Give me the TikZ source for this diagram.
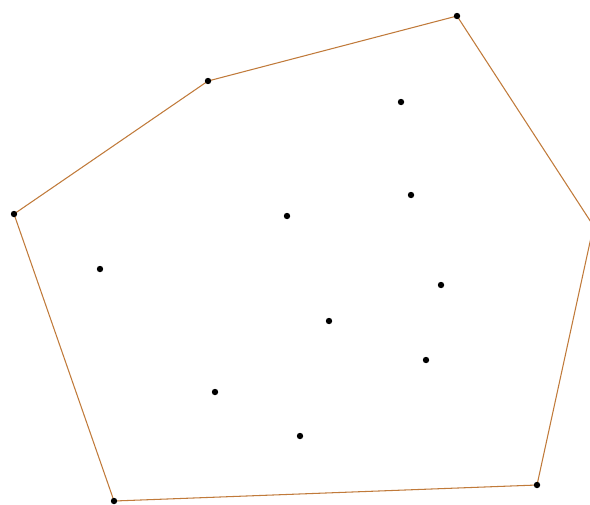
\documentclass[tikz,border=0pt]{standalone}
\usepackage{tikz}
\definecolor{HullBrown}{HTML}{C07A3A}

\begin{document}
\begin{tikzpicture}[x=0.02cm,y=-0.02cm,line cap=round,line join=round]
  \useasboundingbox (0,0) rectangle (590,504);
  \clip (0,0) rectangle (590,504);

  % hull corners
  \coordinate (P1) at (14,214);
  \coordinate (P2) at (208,81);
  \coordinate (P3) at (457,16);
  \coordinate (P4) at (593.5,226);
  \coordinate (P5) at (537,485);
  \coordinate (P6) at (114,501);

  % points inside
  \coordinate (Q1) at (401,102);
  \coordinate (Q2) at (411,195);
  \coordinate (Q3) at (287,216);
  \coordinate (Q4) at (100,269);
  \coordinate (Q5) at (441,285);
  \coordinate (Q6) at (329,321);
  \coordinate (Q7) at (426,360);
  \coordinate (Q8) at (215,392);
  \coordinate (Q9) at (300,436);

  \draw[HullBrown,line width=0.6pt] (P1)--(P2)--(P3)--(P4)--(P5)--(P6)--cycle;

  \fill (P1) circle (3.2) (P2) circle (3.2) (P3) circle (3.2)
        (P5) circle (3.2) (P6) circle (3.2);
  \fill (Q1) circle (3.2) (Q2) circle (3.2) (Q3) circle (3.2)
        (Q4) circle (3.2) (Q5) circle (3.2) (Q6) circle (3.2)
        (Q7) circle (3.2) (Q8) circle (3.2) (Q9) circle (3.2);
\end{tikzpicture}
\end{document}
